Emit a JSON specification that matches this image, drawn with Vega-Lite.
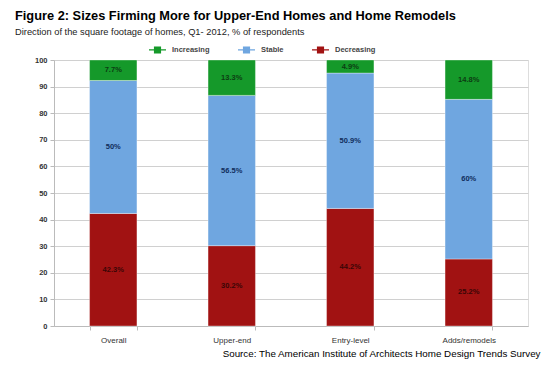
{
  "$schema": "https://vega.github.io/schema/vega-lite/v6.json",
  "width": 474,
  "height": 266,
  "autosize": {"type": "none"},
  "padding": {"left": 54, "top": 60, "right": 23, "bottom": 41},
  "background": "white",
  "title": {
    "text": "Figure 2: Sizes Firming More for Upper-End Homes and Home Remodels",
    "subtitle": "Direction of the square footage of homes, Q1- 2012, % of respondents",
    "anchor": "start",
    "frame": "group",
    "dx": -39,
    "offset": 4,
    "font": "Liberation Sans",
    "fontSize": 12.8,
    "fontWeight": "bold",
    "color": "#000000",
    "subtitleFont": "Liberation Sans",
    "subtitleFontSize": 9.3,
    "subtitleColor": "#222222",
    "subtitlePadding": 5
  },
  "data": {
    "values": [
      {"Category": "Overall", "Direction": "Decreasing", "Value": 42.3, "Label": "42.3%", "Order": 1},
      {"Category": "Overall", "Direction": "Stable", "Value": 50, "Label": "50%", "Order": 2},
      {"Category": "Overall", "Direction": "Increasing", "Value": 7.7, "Label": "7.7%", "Order": 3},
      {"Category": "Upper-end", "Direction": "Decreasing", "Value": 30.2, "Label": "30.2%", "Order": 1},
      {"Category": "Upper-end", "Direction": "Stable", "Value": 56.5, "Label": "56.5%", "Order": 2},
      {"Category": "Upper-end", "Direction": "Increasing", "Value": 13.3, "Label": "13.3%", "Order": 3},
      {"Category": "Entry-level", "Direction": "Decreasing", "Value": 44.2, "Label": "44.2%", "Order": 1},
      {"Category": "Entry-level", "Direction": "Stable", "Value": 50.9, "Label": "50.9%", "Order": 2},
      {"Category": "Entry-level", "Direction": "Increasing", "Value": 4.9, "Label": "4.9%", "Order": 3},
      {"Category": "Adds/remodels", "Direction": "Decreasing", "Value": 25.2, "Label": "25.2%", "Order": 1},
      {"Category": "Adds/remodels", "Direction": "Stable", "Value": 60, "Label": "60%", "Order": 2},
      {"Category": "Adds/remodels", "Direction": "Increasing", "Value": 14.8, "Label": "14.8%", "Order": 3}
    ]
  },
  "encoding": {
    "x": {
      "field": "Category",
      "type": "nominal",
      "sort": ["Overall", "Upper-end", "Entry-level", "Adds/remodels"],
      "scale": {"paddingInner": 0.6, "paddingOuter": 0.3},
      "axis": {
        "title": "Source: The American Institute of Architects Home Design Trends Survey",
        "titleX": 486,
        "titleY": 30,
        "titleAlign": "right",
        "titleBaseline": "alphabetic",
        "titleFont": "Liberation Sans",
        "titleFontSize": 9.8,
        "titleFontWeight": "normal",
        "titleColor": "#000000",
        "labelAngle": 0,
        "labelFont": "Liberation Sans",
        "labelFontSize": 8,
        "labelColor": "#333333",
        "labelPadding": 6,
        "tickBand": "extent",
        "tickSize": 4,
        "tickColor": "#bbbbbb",
        "domainColor": "#bbbbbb"
      }
    },
    "y": {
      "field": "Value",
      "type": "quantitative",
      "stack": "zero",
      "scale": {"domain": [0, 100], "nice": false},
      "axis": {
        "title": null,
        "values": [0, 10, 20, 30, 40, 50, 60, 70, 80, 90, 100],
        "labelFont": "Liberation Sans",
        "labelFontSize": 7.5,
        "labelFontWeight": "bold",
        "labelColor": "#333333",
        "labelPadding": 3,
        "tickSize": 4,
        "tickColor": "#bbbbbb",
        "domainColor": "#bbbbbb",
        "gridColor": "#d0d0d0",
        "gridWidth": 1
      }
    },
    "order": {"field": "Order", "type": "quantitative"}
  },
  "layer": [
    {
      "mark": {"type": "bar", "stroke": "#ffffff", "strokeOpacity": 0.35, "strokeWidth": 1},
      "encoding": {
        "color": {
          "field": "Direction",
          "type": "nominal",
          "scale": {
            "domain": ["Increasing", "Stable", "Decreasing"],
            "range": ["#15992a", "#6fa6e0", "#a11212"]
          },
          "legend": {
            "title": null,
            "orient": "none",
            "direction": "horizontal",
            "legendX": 95,
            "legendY": -19,
            "symbolType": "M-1,-0.07H1V0.07H-1Z M-0.42,-0.42H0.42V0.42H-0.42Z",
            "symbolSize": 289,
            "symbolStrokeWidth": 0,
            "labelFont": "Liberation Sans",
            "labelFontSize": 7.5,
            "labelFontWeight": "bold",
            "labelColor": "#444444",
            "labelOffset": 6,
            "columnPadding": 28
          }
        }
      }
    },
    {
      "mark": {"type": "text", "font": "Liberation Sans", "fontSize": 7.5, "fontWeight": "bold", "baseline": "middle"},
      "encoding": {
        "y": {"field": "Value", "type": "quantitative", "stack": "zero", "bandPosition": 0.5},
        "text": {"field": "Label"},
        "color": {
          "field": "Direction",
          "type": "nominal",
          "scale": {
            "domain": ["Increasing", "Stable", "Decreasing"],
            "range": ["#0c3d12", "#0f2d5c", "#3a0606"]
          },
          "legend": null
        }
      }
    }
  ],
  "resolve": {"scale": {"color": "independent"}}
}
